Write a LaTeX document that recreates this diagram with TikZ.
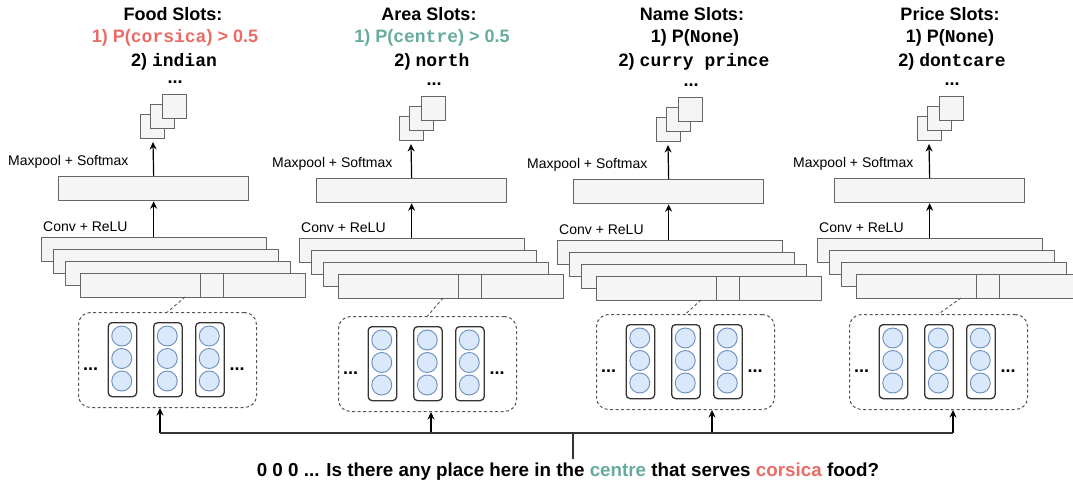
\documentclass[tikz,border=0pt]{standalone}
\usepackage{fontspec}
\setmainfont{Liberation Sans}
\newfontfamily\codefont{Liberation Mono}
\usetikzlibrary{arrows.meta}
\definecolor{boxfill}{HTML}{F5F5F5}
\definecolor{boxline}{HTML}{666666}
\definecolor{cellfill}{HTML}{DAE8FC}
\definecolor{cellline}{HTML}{6C8EBF}
\definecolor{hotred}{HTML}{EA6B66}
\definecolor{slotgreen}{HTML}{67AB9F}
\definecolor{colline}{HTML}{333333}
\definecolor{groupline}{HTML}{555555}

\begin{document}
\begin{tikzpicture}[x=1pt,y=-1pt,
  layer/.style={draw=boxline, fill=boxfill, line width=1.3pt, rectangle, inner sep=0pt,
    anchor=north west, minimum width=225, minimum height=24},
  poolbox/.style={layer, minimum width=190},
  windowbox/.style={layer, minimum width=23},
  featsq/.style={layer, minimum width=24, minimum height=24},
  groupbox/.style={draw=groupline, line width=1pt, dash pattern=on 3pt off 2.5pt, rounded corners=12pt,
    rectangle, inner sep=0pt, anchor=north west, minimum width=178, minimum height=95},
  wordcol/.style={draw=colline, fill=white, line width=1.3pt, rounded corners=4pt, rectangle,
    inner sep=0pt, anchor=north west, minimum width=28.5, minimum height=74},
  cell/.style={circle, draw=cellline, fill=cellfill, line width=0.9pt, inner sep=0pt, minimum size=20},
  lbl/.style={font=\fontsize{14}{16}\selectfont, inner sep=0pt, anchor=base west},
  title/.style={font=\fontsize{18}{20}\selectfont\bfseries, inner sep=0pt, anchor=base},
  dotsfont/.style={font=\fontsize{18}{20}\selectfont\bfseries, inner sep=0pt, anchor=base},
  arr/.style={draw=black, line width=1.2pt, -{Stealth[length=7.5pt, width=7pt]}},
  wire/.style={draw=black!80, line width=1.2pt},
  link/.style={draw=groupline, line width=0.9pt, dash pattern=on 3pt off 2.5pt}
]
\useasboundingbox (0,0) rectangle (1073,481);

% slot titles
\node[title] (food) at (173,21) {Food Slots:};
\node[title, text=hotred] (food1) at (175,43) {1) P({\codefont corsica}) > 0.5};
\node[title] (food2) at (174,67) {2) {\codefont indian}};

\node[title] (area) at (429,21) {Area Slots:};
\node[title, text=slotgreen] (area1) at (432,43) {1) P({\codefont centre}) > 0.5};
\node[title] (area2) at (432,67) {2) {\codefont north}};

\node[title] (name) at (692,21) {Name Slots:};
\node[title] (name1) at (695,43) {1) P({\codefont None})};
\node[title] (name2) at (694,67) {2) {\codefont curry prince}};

\node[title] (price) at (950,21) {Price Slots:};
\node[title] (price1) at (950,43) {1) P({\codefont None})};
\node[title] (price2) at (952,67) {2) {\codefont dontcare}};

% one CNN branch per slot
\foreach \p/\mx/\my/\cx/\cy/\dx/\dy/\sx/\sy/\ax/\mlx in {
  1/58/176/41/237/78/312/140/114/160/8,
  2/316/178/299/238/338/316/399/116/431/272,
  3/573/179/557/240/596/314/656/117/712/527,
  4/834/178/817/238/849/314/917/116/953/793}{
  % pooled output
  \node[poolbox] (mp\p) at (\mx,\my) {};
  \node[lbl] (mpl\p) at (\mlx,\my-10) {Maxpool + Softmax};
  % stacked feature maps
  \node[layer] (cv\p-a) at (\cx,\cy) {};
  \node[layer] (cv\p-b) at (\cx+12,\cy+12) {};
  \node[layer] (cv\p-c) at (\cx+24,\cy+24) {};
  \node[layer] (cv\p-d) at (\cx+39,\cy+36) {};
  \node[windowbox] (win\p) at (\cx+159,\cy+36) {};
  \node[lbl] (cvl\p) at (\cx+2,\cy-6) {Conv + ReLU};
  \draw[arr] (mp\p.south |- cv\p-a.north) -- (mp\p.south);
  % slot value scores
  \node[featsq] (sq\p-a) at (\sx,\sy) {};
  \node[featsq] (sq\p-b) at (\sx+10,\sy-10) {};
  \node[featsq] (sq\p-c) at (\sx+22,\sy-20) {};
  \node[dotsfont] (more\p) at (\sx+35,\sy-30) {...};
  \coordinate (tip\p) at (\mx+95,\sy+28);
  \draw[arr] (mp\p.north) -- (tip\p);
  % word embeddings window
  \node[groupbox] (grp\p) at (\dx,\dy) {};
  \foreach \k/\o in {1/29.5,2/75,3/117}{
    \node[wordcol] (col\p-\k) at (\dx+\o,\dy+10) {};
    \node[cell] (cell\p-\k-1) at (\dx+\o+14.25,\dy+24) {};
    \node[cell] (cell\p-\k-2) at (\dx+\o+14.25,\dy+46.5) {};
    \node[cell] (cell\p-\k-3) at (\dx+\o+14.25,\dy+69) {};
  }
  \node[dotsfont] (ldots\p) at (\dx+12.5,\dy+58) {...};
  \node[dotsfont] (rdots\p) at (\dx+159,\dy+58) {...};
  \coordinate (tap\p) at (\cx+144,\cy+60);
  \draw[link] (tap\p) -- (grp\p.north);
  % input feed
  \coordinate (bus\p) at (\ax,433);
  \draw[arr] (bus\p) -- (bus\p |- grp\p.south);
}

% shared input sentence
\draw[wire] (bus1) -- (bus4);
\node[title, font=\fontsize{18.8}{21}\selectfont\bfseries] (sentence) at (568,476)
  {0 0 0 ... Is there any place here in the {\color{slotgreen}centre} that serves {\color{hotred}corsica} food?};
\coordinate (stem) at (573,459);
\draw[wire] (stem) -- (stem |- bus1);
\end{tikzpicture}
\end{document}
